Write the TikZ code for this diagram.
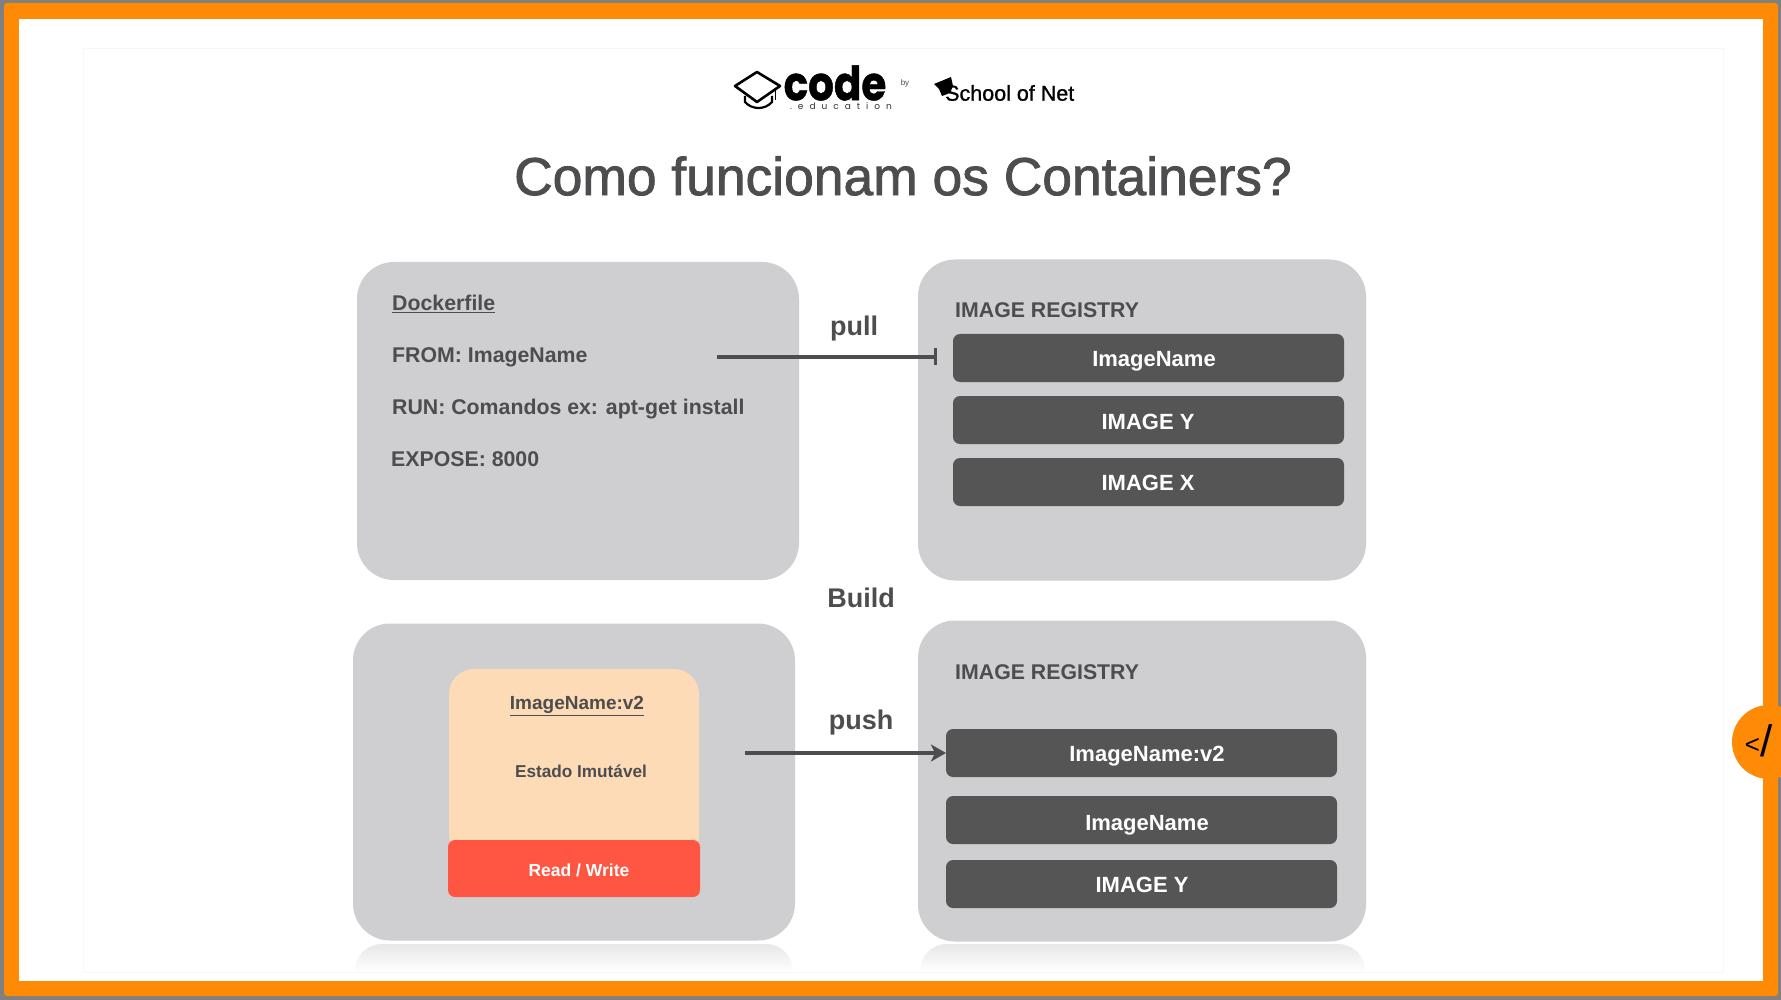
\documentclass[tikz,border=0pt]{standalone}
\usepackage{fontspec}
\usepackage{xcolor}
\usetikzlibrary{arrows.meta, calc, positioning}
\setmainfont{Liberation Sans}
\newfontfamily\logofont[FakeBold=1]{Poppins}
\newfontfamily\edufont{Poppins}
\newfontfamily\titlefont[FakeBold=1.5]{Liberation Sans}
\newfontfamily\schoolfont[FakeBold=1]{Liberation Sans}
\definecolor{framegray}{HTML}{808080}
\definecolor{frameorange}{HTML}{FF8A05}
\definecolor{panelgray}{HTML}{CFCFD1}
\definecolor{rowgray}{HTML}{555555}
\definecolor{textgray}{HTML}{4D4D4F}
\definecolor{peach}{HTML}{FDDBB6}
\definecolor{redbar}{HTML}{FF5543}
\definecolor{reflectgray}{HTML}{E7E7E9}
\tikzset{
  panelbox/.style={fill=panelgray,rounded corners=37pt,inner sep=0pt,outer sep=0pt},
  rowbox/.style={fill=rowgray,rounded corners=7pt,inner sep=0pt,outer sep=0pt,minimum width=391pt,minimum height=48pt},
  rowtext/.style={text=white,font=\fontsize{22}{26}\selectfont\bfseries},
  bodytext/.style={text=textgray,anchor=west,inner sep=0pt,font=\fontsize{21.3}{26}\selectfont\bfseries},
  flowtext/.style={text=textgray,font=\fontsize{27}{32}\selectfont\bfseries},
  smalltext/.style={text=textgray,font=\fontsize{18.5}{22}\selectfont\bfseries},
  flowline/.style={draw=textgray,line width=3.5pt},
  reflectbox/.style={top color=reflectgray,bottom color=white},
}
\newcommand\DrawReflect[2]{%
\shade[reflectbox] (#1,972) [rounded corners=27pt] -- (#1,944) -- (#2,944) [sharp corners] -- (#2,972) -- cycle;
}
\begin{document}
\begin{tikzpicture}[x=1pt,y=-1pt]
  \useasboundingbox (0,0) rectangle (1781,1000);
  % frame of the screen
  \fill[framegray] (0,0) rectangle (1781,1000);
  \fill[frameorange,rounded corners=3pt] (4,3) rectangle (1778,996);
  \fill[white] (19,19) rectangle (1763,981);
  \draw[black!3] (83,48) rectangle (1723,972);

  % logos
  \draw[black,line width=2.6pt,line join=round] (735,86) -- (757,72) -- (780,86) -- (757,102) -- cycle;
  \draw[black,line width=2.2pt] (745,96) -- (745,102) .. controls (752,110) and (765,110) .. (772,102) -- (772,96);
  \draw[black,line width=1pt] (775,88) -- (775,100);
  \node[inner sep=0pt,text=black,xscale=.86,transform shape,font=\logofont\fontsize{47}{50}\selectfont\bfseries] (codelogo) at (835,83) {code};
  \node[inner sep=0pt,text=black!80,font=\edufont\fontsize{9}{10}\selectfont] (edulogo) at (841,106) {.\hspace{6pt}e\hspace{6pt}d\hspace{6pt}u\hspace{6pt}c\hspace{6pt}a\hspace{6pt}t\hspace{6pt}i\hspace{6pt}o\hspace{6pt}n};
  \node[inner sep=0pt,text=black!70,font=\fontsize{8}{10}\selectfont] (bylogo) at (905,83) {by};
  \fill[black] (934,84) -- (951,77) -- (953,86) -- (950,93) -- (942,96) -- (939,89) -- cycle;
  \node[inner sep=0pt,text=black,anchor=west,font=\schoolfont\fontsize{21.5}{24}\selectfont] (schoollogo) at (945,93) {School of Net};

  \node[text=textgray,inner sep=0pt,font=\titlefont\fontsize{53.4}{60}\selectfont] (title) at (903,176) {Como funcionam os Containers?};

  % panels
  \DrawReflect{355}{793}
  \DrawReflect{920}{1365}
  \node[panelbox,minimum width=442pt,minimum height=318pt] (filepanel) at (578,421) {};
  \node[panelbox,minimum width=448pt,minimum height=321pt] (pullpanel) at (1142,420) {};
  \node[panelbox,minimum width=442pt,minimum height=317pt] (runpanel) at (574,782) {};
  \node[panelbox,minimum width=448pt,minimum height=321pt] (pushpanel) at (1142,781) {};

  % dockerfile
  \node[bodytext] (dockerfile) at (392,304) {\underline{Dockerfile}};
  \node[bodytext] (fromline) at (392,357) {FROM: ImageName};
  \node[bodytext] (runline) at (392,409) {RUN: Comandos ex: apt-get install};
  \node[bodytext] (exposeline) at (391,459) {EXPOSE: 8000};

  % upper registry
  \node[bodytext] (pullreg) at (955,310) {IMAGE REGISTRY};
  \node[rowbox] (rowpulla) at (1148.5,358) {};
  \node[rowbox] (rowpullb) at (1148.5,420) {};
  \node[rowbox] (rowpullc) at (1148.5,482) {};
  \node[rowtext] at (1154,361) {ImageName};
  \node[rowtext] at (1148,422) {IMAGE Y};
  \node[rowtext] at (1148,483) {IMAGE X};

  % running container
  \fill[peach,rounded corners=25pt] (449,669) -- (699,669) -- (699,860) -- (449,860) -- cycle;
  \node[fill=redbar,rounded corners=7pt,inner sep=0pt,minimum width=252pt,minimum height=57pt] (rwbar) at (574,868.5) {};
  \node[smalltext,font=\fontsize{19}{22}\selectfont\bfseries] (contname) at (577,706) {\underline{ImageName:v2}};
  \node[smalltext,font=\fontsize{17.2}{22}\selectfont\bfseries] (contstate) at (581,771) {Estado Imutável};
  \node[smalltext,text=white,font=\fontsize{17.5}{22}\selectfont\bfseries] (rwtext) at (579,870) {Read / Write};

  % lower registry
  \node[bodytext] (pushreg) at (955,672) {IMAGE REGISTRY};
  \node[rowbox] (rowpusha) at (1141.5,753) {};
  \node[rowbox] (rowpushb) at (1141.5,820) {};
  \node[rowbox] (rowpushc) at (1141.5,884) {};
  \node[rowtext] at (1147,756) {ImageName:v2};
  \node[rowtext] at (1147,825) {ImageName};
  \node[rowtext] at (1142,885) {IMAGE Y};

  % flow labels and lines
  \node[flowtext] (pulllabel) at (854,329) {pull};
  \node[flowtext] (buildlabel) at (861,598) {Build};
  \node[flowtext] (pushlabel) at (861,723) {push};
  \coordinate (pullfrom) at (717,357);
  \coordinate (pullto) at (937,357);
  \coordinate (pushfrom) at (745,753);
  \draw[flowline,-|] (pullfrom) -- (pullto);
  \draw[flowline,-{Stealth[length=15pt,width=17pt,inset=4pt]}] (pushfrom) -- (rowpusha.west);

  % corner badge
  \fill[frameorange] (1769,742) circle (37pt);
  \node[inner sep=0pt,text=black,font=\fontsize{26}{40}\selectfont] (badge) at (1759,741) {\raisebox{3pt}{<}\hspace{1pt}\fontsize{44}{40}\selectfont/};
\end{tikzpicture}
\end{document}
